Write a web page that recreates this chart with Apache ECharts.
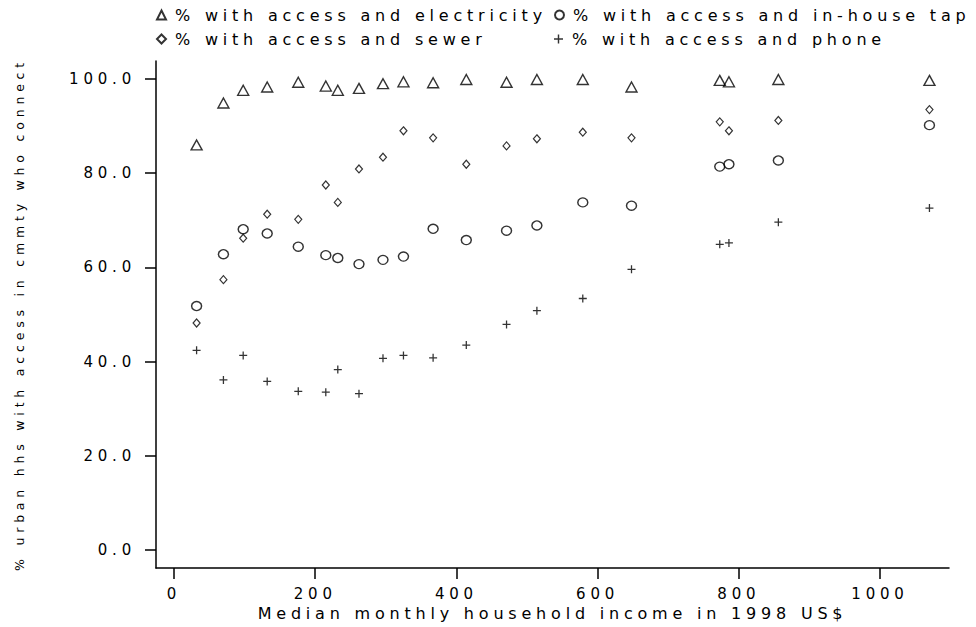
<!DOCTYPE html>
<html>
<head>
<meta charset="utf-8">
<script src="https://cdn.jsdelivr.net/npm/echarts@6/dist/echarts.min.js"></script>
<style>
  html, body { margin: 0; padding: 0; background: #fff; }
  #chart { width: 976px; height: 627px; }
  #chart text { letter-spacing: 4.8px; }
</style>
</head>
<body>
<div id="chart"></div>
<script>
// Median monthly household income (1998 US$) per group
const income = [32, 70, 98, 132, 176, 215, 232, 262, 296, 325, 367, 414, 471, 514, 579, 648, 773, 786, 856, 1070];
// % urban households with access in community who connect
const electricity = [86.0, 94.9, 97.6, 98.3, 99.3, 98.5, 97.6, 98.0, 99.0, 99.4, 99.2, 99.9, 99.3, 99.9, 99.9, 98.3, 99.7, 99.4, 99.9, 99.7];
const tap = [51.8, 62.8, 68.1, 67.2, 64.4, 62.6, 62.0, 60.7, 61.6, 62.3, 68.2, 65.8, 67.8, 68.9, 73.8, 73.1, 81.4, 81.9, 82.7, 90.2];
const sewer = [48.2, 57.4, 66.2, 71.3, 70.2, 77.5, 73.8, 80.9, 83.4, 89.0, 87.5, 81.9, 85.8, 87.3, 88.7, 87.5, 90.9, 89.0, 91.2, 93.5];
const phone = [42.4, 36.1, 41.3, 35.8, 33.7, 33.5, 38.3, 33.2, 40.7, 41.3, 40.8, 43.5, 47.9, 50.8, 53.4, 59.6, 64.9, 65.2, 69.6, 72.6];

const seriesNames = [
  '% with access and electricity',
  '% with access and in-house tap',
  '% with access and sewer',
  '% with access and phone'
];
const xTicks = [0, 200, 400, 600, 800, 1000];
const yTicks = [0, 20, 40, 60, 80, 100];

const FONT = 'DejaVu Sans';
const INK = '#000';
const plusPath = 'path://M4.2,0H5.8V4.2H10V5.8H5.8V10H4.2V5.8H0V4.2H4.2Z';

function pairs(ys) { return income.map((x, i) => [x, ys[i]]); }

const hollow = { color: 'rgba(0,0,0,0)', borderColor: INK, borderWidth: 1.4 };

const chart = echarts.init(document.getElementById('chart'), null, { renderer: 'svg' });

function legendAt(name, left, top) {
  return {
    data: [name], left: left, top: top, orient: 'horizontal',
    itemWidth: 9, itemHeight: 9, itemGap: 0, padding: 0,
    textStyle: { fontFamily: FONT, fontSize: 16, color: INK, padding: [0, 0, 0, 4] },
    selectedMode: false
  };
}

chart.setOption({
  backgroundColor: '#fff',
  animation: false,
  textStyle: { fontFamily: FONT },
  legend: [
    legendAt(seriesNames[0], 156, 7),
    legendAt(seriesNames[1], 554, 7),
    legendAt(seriesNames[2], 156, 31),
    legendAt(seriesNames[3], 554, 31)
  ],
  grid: { left: 156, right: 27, top: 61, bottom: 59, containLabel: false },
  xAxis: {
    type: 'value', min: -25.5, max: 1097.7,
    name: 'Median monthly household income in 1998 US$',
    nameLocation: 'middle', nameGap: 37,
    nameTextStyle: { fontFamily: FONT, fontSize: 16, color: INK },
    axisLine: { show: true, onZero: false, lineStyle: { color: INK, width: 1.5 } },
    axisTick: { show: true, inside: false, length: 11, lineStyle: { color: INK, width: 1.5 }, customValues: xTicks },
    axisLabel: { show: true, margin: 18, fontFamily: FONT, fontSize: 15, color: INK, customValues: xTicks, formatter: v => String(v) },
    splitLine: { show: false }
  },
  yAxis: {
    type: 'value', min: -3.82, max: 103.82,
    name: '% urban hhs with access in cmmty who connect',
    nameLocation: 'middle', nameGap: 130, nameRotate: 90,
    nameTextStyle: { fontFamily: FONT, fontSize: 12.5, color: INK },
    axisLine: { show: true, onZero: false, lineStyle: { color: INK, width: 1.5 } },
    axisTick: { show: true, inside: false, length: 11, lineStyle: { color: INK, width: 1.5 }, customValues: yTicks },
    axisLabel: { show: true, margin: 20, fontFamily: FONT, fontSize: 15, color: INK, customValues: yTicks, formatter: v => v.toFixed(1) },
    splitLine: { show: false }
  },
  series: [
    { name: seriesNames[0], type: 'scatter', data: pairs(electricity), symbol: 'triangle', symbolSize: [11, 10], itemStyle: hollow },
    { name: seriesNames[1], type: 'scatter', data: pairs(tap), symbol: 'circle', symbolSize: [10, 9], itemStyle: hollow },
    { name: seriesNames[2], type: 'scatter', data: pairs(sewer), symbol: 'diamond', symbolSize: [7, 8], itemStyle: { color: 'rgba(0,0,0,0)', borderColor: INK, borderWidth: 1.2 } },
    { name: seriesNames[3], type: 'scatter', data: pairs(phone), symbol: plusPath, symbolSize: 8, itemStyle: { color: INK, borderWidth: 0 } }
  ]
});
</script>
</body>
</html>
